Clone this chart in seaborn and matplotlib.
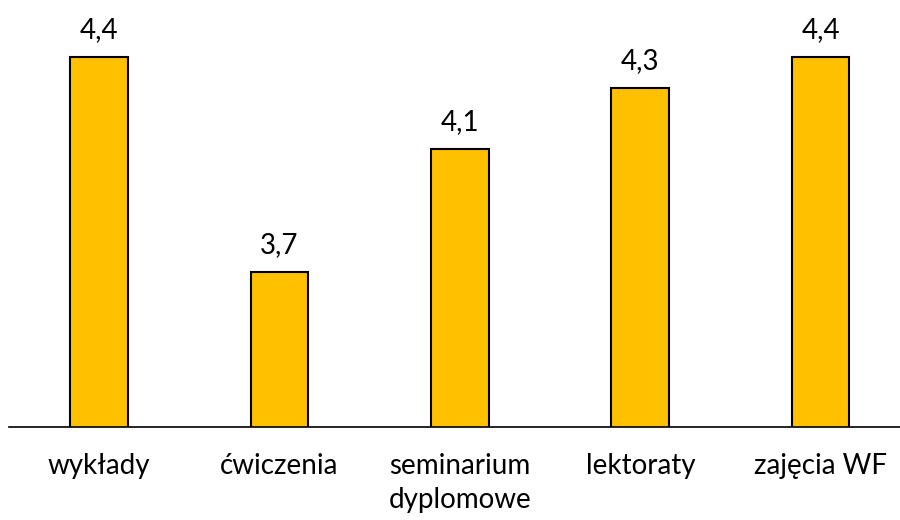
import matplotlib
matplotlib.use("Agg")
import matplotlib.pyplot as plt
import seaborn as sns
import pandas as pd

categories = ["wykłady", "ćwiczenia", "seminarium\ndyplomowe", "lektoraty", "zajęcia WF"]
values = [4.4, 3.7, 4.1, 4.3, 4.4]

sns.set_style("white")
plt.rcParams['font.family'] = ['Lato', 'DejaVu Sans']
plt.rcParams['text.color'] = 'black'
plt.rcParams['xtick.color'] = 'black'

df = pd.DataFrame({"kategoria": categories, "ocena": values})

fig = plt.figure(figsize=(9, 5.2), dpi=100)
ax = fig.add_axes([9 / 900, 93 / 520, 891 / 900, 427 / 520])

sns.barplot(data=df, x="kategoria", y="ocena", color="#FFC000",
            width=0.32, edgecolor="black", linewidth=1.5, saturation=1, ax=ax)

ax.set_ylim(3.195, 3.195 + 427 / 307.1)
ax.set_xlim(-0.5, 4.44)

labels = [f"{v:.1f}".replace(".", ",") for v in values]
ax.bar_label(ax.containers[0], labels=labels, padding=10, fontsize=20, color="black")

for s in ["top", "left", "right"]:
    ax.spines[s].set_visible(False)
ax.spines["bottom"].set_color("black")
ax.spines["bottom"].set_linewidth(1.2)

ax.set_yticks([])
ax.set_xlabel("")
ax.set_ylabel("")
ax.tick_params(axis="x", length=0, pad=19, labelsize=20, labelcolor="black")
for t in ax.get_xticklabels():
    t.set_linespacing(1.35)

fig.savefig("out.png", dpi=100)
